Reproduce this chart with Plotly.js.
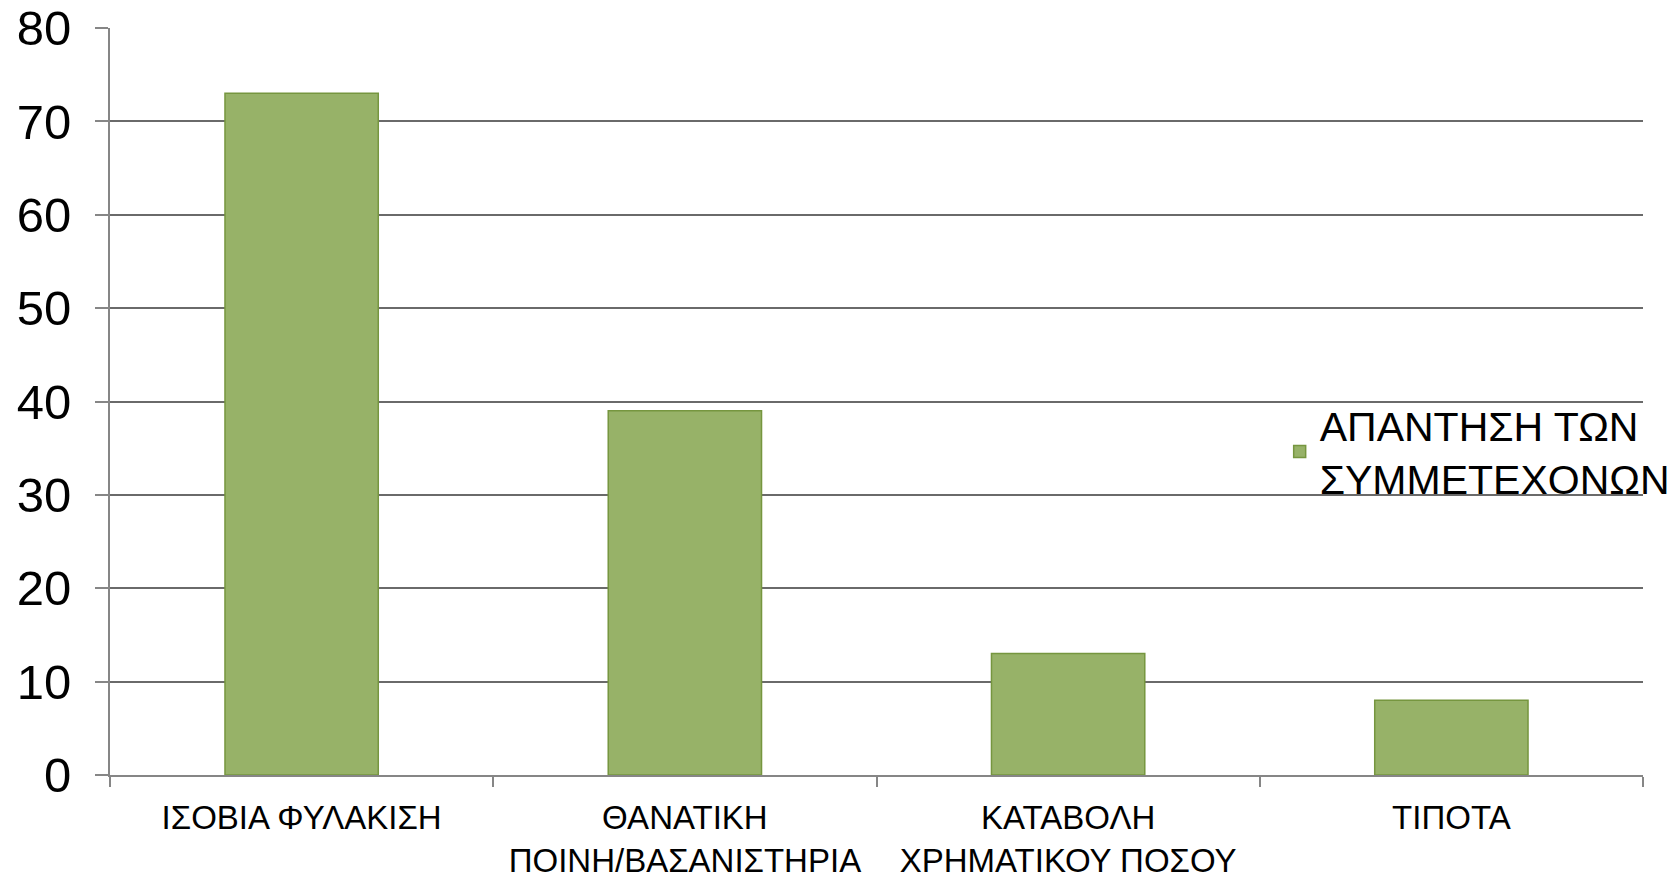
<!DOCTYPE html>
<html>
<head>
<meta charset="utf-8">
<script src="https://cdn.plot.ly/plotly-3.0.1.min.js"></script>
<style>html,body{margin:0;padding:0;background:#fff;}#chart{width:1673px;height:880px;}</style>
</head>
<body>
<div id="chart"></div>
<script>
const categories = ["ΙΣΟΒΙΑ ΦΥΛΑΚΙΣΗ", "ΘΑΝΑΤΙΚΗ<br>ΠΟΙΝΗ/ΒΑΣΑΝΙΣΤΗΡΙΑ", "ΚΑΤΑΒΟΛΗ<br>ΧΡΗΜΑΤΙΚΟΥ ΠΟΣΟΥ", "ΤΙΠΟΤΑ"];
const values = [73, 39, 13, 8];
const seriesName = "ΑΠΑΝΤΗΣΗ ΤΩΝ<br>ΣΥΜΜΕΤΕΧΟΝΩΝ";
const yTicks = [0, 10, 20, 30, 40, 50, 60, 70, 80];

const traces = [{
  type: 'bar',
  x: categories,
  y: values,
  name: seriesName,
  width: 0.4,
  marker: {color: '#97b268', line: {color: '#76963f', width: 1.5}},
  hoverinfo: 'x+y'
}];

const layout = {
  width: 1673, height: 880,
  margin: {l: 110, r: 30, t: 28, b: 105, autoexpand: false},
  paper_bgcolor: '#ffffff', plot_bgcolor: '#ffffff',
  font: {family: '"Liberation Sans", Arial, sans-serif', color: '#000'},
  showlegend: true,
  legend: {
    x: 0.763, y: 0.513, xanchor: 'left', yanchor: 'top',
    font: {family: '"Liberation Sans Narrow", "Liberation Sans", sans-serif', size: 41, color: '#000'},
    bgcolor: 'rgba(0,0,0,0)', borderwidth: 0
  },
  xaxis: {
    type: 'category',
    tickson: 'boundaries',
    ticks: 'outside', ticklen: 10, tickcolor: '#868686', tickwidth: 2,
    showline: true, linecolor: '#868686', linewidth: 2,
    showgrid: false,
    ticklabelstandoff: 12,
    tickfont: {family: '"Liberation Sans Narrow", "Liberation Sans", sans-serif', size: 33, color: '#000'},
    fixedrange: true
  },
  yaxis: {
    range: [0, 80],
    tickvals: yTicks,
    ticktext: yTicks.map(String),
    ticks: 'outside', ticklen: 13, tickcolor: '#868686', tickwidth: 2,
    showline: true, linecolor: '#868686', linewidth: 2,
    showgrid: true, gridcolor: '#6a6a6a', gridwidth: 2,
    zeroline: false,
    ticklabelstandoff: 14,
    tickfont: {family: '"Liberation Sans", Arial, sans-serif', size: 49, color: '#000'},
    fixedrange: true
  },
  bargap: 0.6
};

Plotly.newPlot('chart', traces, layout, {displayModeBar: false, staticPlot: true});
</script>
</body>
</html>
